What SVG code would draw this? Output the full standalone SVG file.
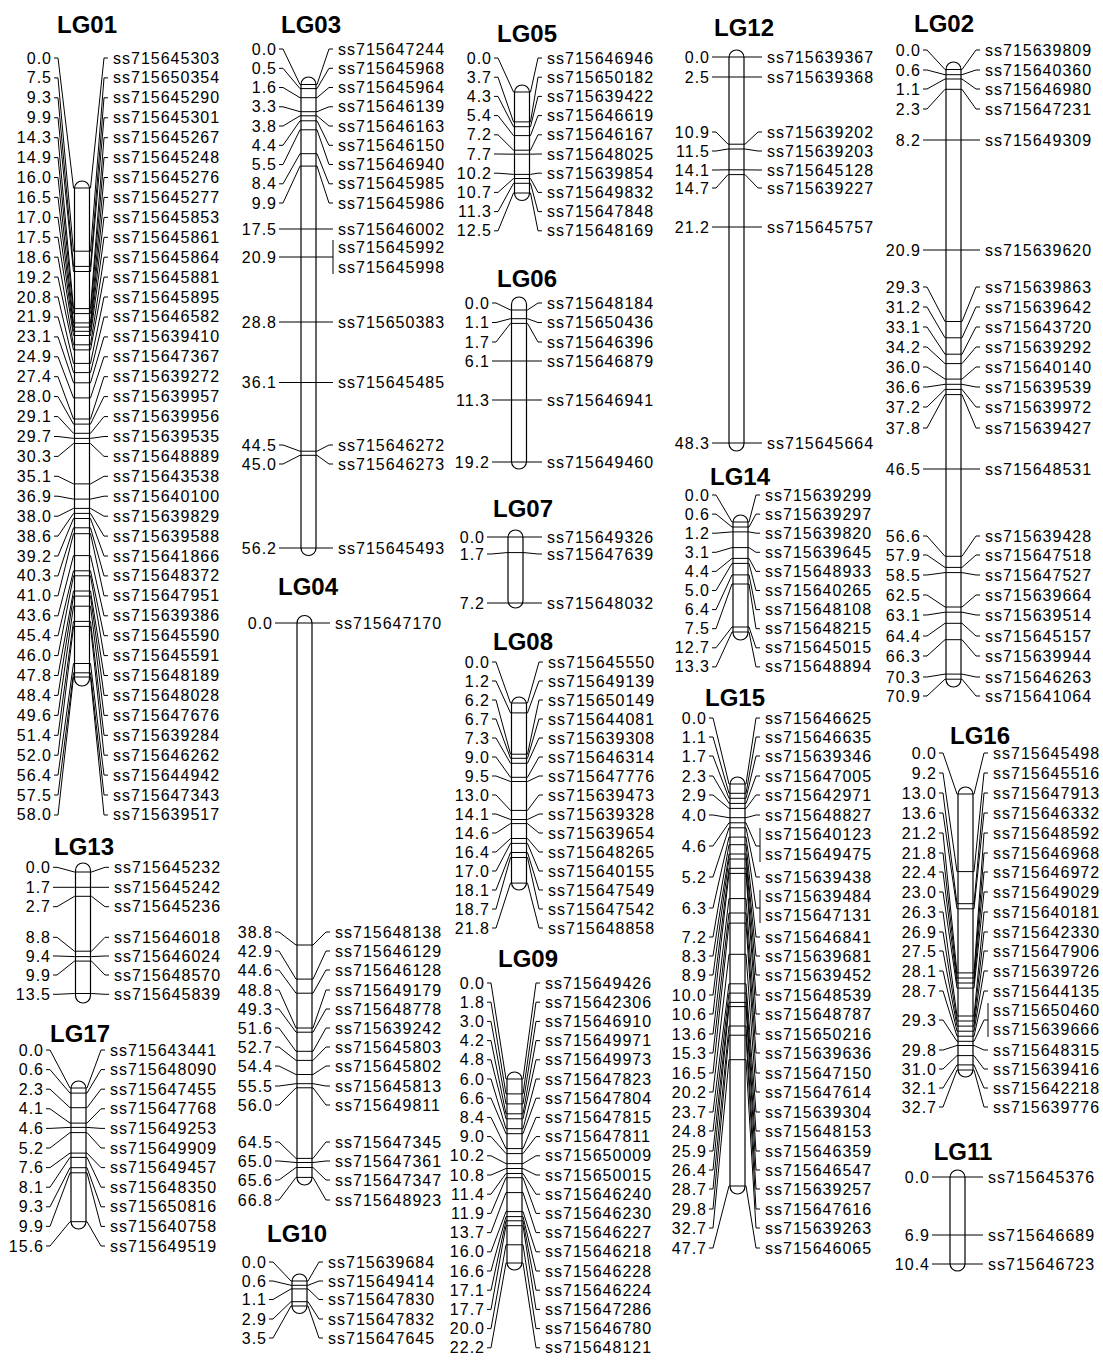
<svg xmlns="http://www.w3.org/2000/svg" width="1103" height="1365" viewBox="0 0 1103 1365">
<style>
text{font-family:"Liberation Sans",Arial,sans-serif;fill:#000}
.t{font-size:16px;letter-spacing:1px}
.l{text-anchor:end}
.h{font-size:24px;font-weight:bold;text-anchor:middle}
.c{fill:#fff;stroke:#000;stroke-width:1.2}
#connectors polyline,#connectors line{fill:none;stroke:#000;stroke-width:1}
</style>
<rect width="1103" height="1365" fill="#fff"/>
<g id="LG01">
<text class="h" x="87" y="33">LG01</text>
<rect class="c" x="74.5" y="181" width="15" height="505" rx="7.5"/>
<text class="t l" x="52" y="63.5"><tspan x="52">0.0</tspan><tspan x="52" dy="19.92">7.5</tspan><tspan x="52" dy="19.92">9.3</tspan><tspan x="52" dy="19.92">9.9</tspan><tspan x="52" dy="19.92">14.3</tspan><tspan x="52" dy="19.92">14.9</tspan><tspan x="52" dy="19.92">16.0</tspan><tspan x="52" dy="19.92">16.5</tspan><tspan x="52" dy="19.92">17.0</tspan><tspan x="52" dy="19.92">17.5</tspan><tspan x="52" dy="19.92">18.6</tspan><tspan x="52" dy="19.92">19.2</tspan><tspan x="52" dy="19.92">20.8</tspan><tspan x="52" dy="19.92">21.9</tspan><tspan x="52" dy="19.92">23.1</tspan><tspan x="52" dy="19.92">24.9</tspan><tspan x="52" dy="19.92">27.4</tspan><tspan x="52" dy="19.92">28.0</tspan><tspan x="52" dy="19.92">29.1</tspan><tspan x="52" dy="19.92">29.7</tspan><tspan x="52" dy="19.92">30.3</tspan><tspan x="52" dy="19.92">35.1</tspan><tspan x="52" dy="19.92">36.9</tspan><tspan x="52" dy="19.92">38.0</tspan><tspan x="52" dy="19.92">38.6</tspan><tspan x="52" dy="19.92">39.2</tspan><tspan x="52" dy="19.92">40.3</tspan><tspan x="52" dy="19.92">41.0</tspan><tspan x="52" dy="19.92">43.6</tspan><tspan x="52" dy="19.92">45.4</tspan><tspan x="52" dy="19.92">46.0</tspan><tspan x="52" dy="19.92">47.8</tspan><tspan x="52" dy="19.92">48.4</tspan><tspan x="52" dy="19.92">49.6</tspan><tspan x="52" dy="19.92">51.4</tspan><tspan x="52" dy="19.92">52.0</tspan><tspan x="52" dy="19.92">56.4</tspan><tspan x="52" dy="19.92">57.5</tspan><tspan x="52" dy="19.92">58.0</tspan></text>
<text class="t" x="113" y="63.5"><tspan x="113">ss715645303</tspan><tspan x="113" dy="19.92">ss715650354</tspan><tspan x="113" dy="19.92">ss715645290</tspan><tspan x="113" dy="19.92">ss715645301</tspan><tspan x="113" dy="19.92">ss715645267</tspan><tspan x="113" dy="19.92">ss715645248</tspan><tspan x="113" dy="19.92">ss715645276</tspan><tspan x="113" dy="19.92">ss715645277</tspan><tspan x="113" dy="19.92">ss715645853</tspan><tspan x="113" dy="19.92">ss715645861</tspan><tspan x="113" dy="19.92">ss715645864</tspan><tspan x="113" dy="19.92">ss715645881</tspan><tspan x="113" dy="19.92">ss715645895</tspan><tspan x="113" dy="19.92">ss715646582</tspan><tspan x="113" dy="19.92">ss715639410</tspan><tspan x="113" dy="19.92">ss715647367</tspan><tspan x="113" dy="19.92">ss715639272</tspan><tspan x="113" dy="19.92">ss715639957</tspan><tspan x="113" dy="19.92">ss715639956</tspan><tspan x="113" dy="19.92">ss715639535</tspan><tspan x="113" dy="19.92">ss715648889</tspan><tspan x="113" dy="19.92">ss715643538</tspan><tspan x="113" dy="19.92">ss715640100</tspan><tspan x="113" dy="19.92">ss715639829</tspan><tspan x="113" dy="19.92">ss715639588</tspan><tspan x="113" dy="19.92">ss715641866</tspan><tspan x="113" dy="19.92">ss715648372</tspan><tspan x="113" dy="19.92">ss715647951</tspan><tspan x="113" dy="19.92">ss715639386</tspan><tspan x="113" dy="19.92">ss715645590</tspan><tspan x="113" dy="19.92">ss715645591</tspan><tspan x="113" dy="19.92">ss715648189</tspan><tspan x="113" dy="19.92">ss715648028</tspan><tspan x="113" dy="19.92">ss715647676</tspan><tspan x="113" dy="19.92">ss715639284</tspan><tspan x="113" dy="19.92">ss715646262</tspan><tspan x="113" dy="19.92">ss715644942</tspan><tspan x="113" dy="19.92">ss715647343</tspan><tspan x="113" dy="19.92">ss715639517</tspan></text>
</g>
<g id="LG13">
<text class="h" x="84" y="855">LG13</text>
<rect class="c" x="75.5" y="863" width="15" height="140" rx="7.5"/>
<text class="t l"><tspan x="51" y="872.8">0.0</tspan><tspan x="51" y="892.8">1.7</tspan><tspan x="51" y="912.2">2.7</tspan><tspan x="51" y="942.8">8.8</tspan><tspan x="51" y="961.5">9.4</tspan><tspan x="51" y="980.5">9.9</tspan><tspan x="51" y="999.8">13.5</tspan></text>
<text class="t"><tspan x="114" y="872.8">ss715645232</tspan><tspan x="114" y="892.8">ss715645242</tspan><tspan x="114" y="912.2">ss715645236</tspan><tspan x="114" y="942.8">ss715646018</tspan><tspan x="114" y="961.5">ss715646024</tspan><tspan x="114" y="980.5">ss715648570</tspan><tspan x="114" y="999.8">ss715645839</tspan></text>
</g>
<g id="LG17">
<text class="h" x="80" y="1042">LG17</text>
<rect class="c" x="71" y="1081" width="15" height="148" rx="7.5"/>
<text class="t l" x="44" y="1055.5"><tspan x="44">0.0</tspan><tspan x="44" dy="19.6">0.6</tspan><tspan x="44" dy="19.6">2.3</tspan><tspan x="44" dy="19.6">4.1</tspan><tspan x="44" dy="19.6">4.6</tspan><tspan x="44" dy="19.6">5.2</tspan><tspan x="44" dy="19.6">7.6</tspan><tspan x="44" dy="19.6">8.1</tspan><tspan x="44" dy="19.6">9.3</tspan><tspan x="44" dy="19.6">9.9</tspan><tspan x="44" dy="19.6">15.6</tspan></text>
<text class="t" x="110" y="1055.5"><tspan x="110">ss715643441</tspan><tspan x="110" dy="19.6">ss715648090</tspan><tspan x="110" dy="19.6">ss715647455</tspan><tspan x="110" dy="19.6">ss715647768</tspan><tspan x="110" dy="19.6">ss715649253</tspan><tspan x="110" dy="19.6">ss715649909</tspan><tspan x="110" dy="19.6">ss715649457</tspan><tspan x="110" dy="19.6">ss715648350</tspan><tspan x="110" dy="19.6">ss715650816</tspan><tspan x="110" dy="19.6">ss715640758</tspan><tspan x="110" dy="19.6">ss715649519</tspan></text>
</g>
<g id="LG03">
<text class="h" x="311" y="33">LG03</text>
<rect class="c" x="301" y="77" width="15" height="478.5" rx="7.5"/>
<text class="t l"><tspan x="277" y="54.5">0.0</tspan><tspan x="277" y="73.8">0.5</tspan><tspan x="277" y="93">1.6</tspan><tspan x="277" y="112.3">3.3</tspan><tspan x="277" y="131.5">3.8</tspan><tspan x="277" y="150.8">4.4</tspan><tspan x="277" y="170">5.5</tspan><tspan x="277" y="189.3">8.4</tspan><tspan x="277" y="208.5">9.9</tspan><tspan x="277" y="234.5">17.5</tspan><tspan x="277" y="262.5">20.9</tspan><tspan x="277" y="327.5">28.8</tspan><tspan x="277" y="388">36.1</tspan><tspan x="277" y="450.5">44.5</tspan><tspan x="277" y="469.5">45.0</tspan><tspan x="277" y="553.5">56.2</tspan></text>
<text class="t"><tspan x="338" y="54.5">ss715647244</tspan><tspan x="338" y="73.8">ss715645968</tspan><tspan x="338" y="93">ss715645964</tspan><tspan x="338" y="112.3">ss715646139</tspan><tspan x="338" y="131.5">ss715646163</tspan><tspan x="338" y="150.8">ss715646150</tspan><tspan x="338" y="170">ss715646940</tspan><tspan x="338" y="189.3">ss715645985</tspan><tspan x="338" y="208.5">ss715645986</tspan><tspan x="338" y="234.5">ss715646002</tspan><tspan x="338" y="252.5">ss715645992</tspan><tspan x="338" y="272.5">ss715645998</tspan><tspan x="338" y="327.5">ss715650383</tspan><tspan x="338" y="388">ss715645485</tspan><tspan x="338" y="450.5">ss715646272</tspan><tspan x="338" y="469.5">ss715646273</tspan><tspan x="338" y="553.5">ss715645493</tspan></text>
</g>
<g id="LG04">
<text class="h" x="308" y="595">LG04</text>
<rect class="c" x="297" y="615.5" width="15" height="569.5" rx="7.5"/>
<text class="t l"><tspan x="273" y="628.5">0.0</tspan><tspan x="273" y="937.5">38.8</tspan><tspan x="273" y="956.5">42.9</tspan><tspan x="273" y="975.5">44.6</tspan><tspan x="273" y="995.5">48.8</tspan><tspan x="273" y="1014.5">49.3</tspan><tspan x="273" y="1033.5">51.6</tspan><tspan x="273" y="1052.5">52.7</tspan><tspan x="273" y="1071.5">54.4</tspan><tspan x="273" y="1091.5">55.5</tspan><tspan x="273" y="1110.5">56.0</tspan><tspan x="273" y="1147.5">64.5</tspan><tspan x="273" y="1166.5">65.0</tspan><tspan x="273" y="1185.5">65.6</tspan><tspan x="273" y="1205.5">66.8</tspan></text>
<text class="t"><tspan x="335" y="628.5">ss715647170</tspan><tspan x="335" y="937.5">ss715648138</tspan><tspan x="335" y="956.5">ss715646129</tspan><tspan x="335" y="975.5">ss715646128</tspan><tspan x="335" y="995.5">ss715649179</tspan><tspan x="335" y="1014.5">ss715648778</tspan><tspan x="335" y="1033.5">ss715639242</tspan><tspan x="335" y="1052.5">ss715645803</tspan><tspan x="335" y="1071.5">ss715645802</tspan><tspan x="335" y="1091.5">ss715645813</tspan><tspan x="335" y="1110.5">ss715649811</tspan><tspan x="335" y="1147.5">ss715647345</tspan><tspan x="335" y="1166.5">ss715647361</tspan><tspan x="335" y="1185.5">ss715647347</tspan><tspan x="335" y="1205.5">ss715648923</tspan></text>
</g>
<g id="LG10">
<text class="h" x="297" y="1242">LG10</text>
<rect class="c" x="292" y="1274" width="15" height="39.5" rx="7.5"/>
<text class="t l"><tspan x="267" y="1267.5">0.0</tspan><tspan x="267" y="1286.5">0.6</tspan><tspan x="267" y="1305">1.1</tspan><tspan x="267" y="1324.5">2.9</tspan><tspan x="267" y="1343.5">3.5</tspan></text>
<text class="t"><tspan x="328" y="1267.5">ss715639684</tspan><tspan x="328" y="1286.5">ss715649414</tspan><tspan x="328" y="1305">ss715647830</tspan><tspan x="328" y="1324.5">ss715647832</tspan><tspan x="328" y="1343.5">ss715647645</tspan></text>
</g>
<g id="LG05">
<text class="h" x="527" y="42">LG05</text>
<rect class="c" x="514.5" y="85" width="15" height="115.5" rx="7.5"/>
<text class="t l" x="492" y="63.5"><tspan x="492">0.0</tspan><tspan x="492" dy="19.2">3.7</tspan><tspan x="492" dy="19.2">4.3</tspan><tspan x="492" dy="19.2">5.4</tspan><tspan x="492" dy="19.2">7.2</tspan><tspan x="492" dy="19.2">7.7</tspan><tspan x="492" dy="19.2">10.2</tspan><tspan x="492" dy="19.2">10.7</tspan><tspan x="492" dy="19.2">11.3</tspan><tspan x="492" dy="19.2">12.5</tspan></text>
<text class="t" x="547" y="63.5"><tspan x="547">ss715646946</tspan><tspan x="547" dy="19.2">ss715650182</tspan><tspan x="547" dy="19.2">ss715639422</tspan><tspan x="547" dy="19.2">ss715646619</tspan><tspan x="547" dy="19.2">ss715646167</tspan><tspan x="547" dy="19.2">ss715648025</tspan><tspan x="547" dy="19.2">ss715639854</tspan><tspan x="547" dy="19.2">ss715649832</tspan><tspan x="547" dy="19.2">ss715647848</tspan><tspan x="547" dy="19.2">ss715648169</tspan></text>
</g>
<g id="LG06">
<text class="h" x="527" y="287">LG06</text>
<rect class="c" x="511.5" y="297" width="15" height="172" rx="7.5"/>
<text class="t l"><tspan x="490" y="308.5">0.0</tspan><tspan x="490" y="328">1.1</tspan><tspan x="490" y="347.5">1.7</tspan><tspan x="490" y="366.5">6.1</tspan><tspan x="490" y="405.5">11.3</tspan><tspan x="490" y="467.5">19.2</tspan></text>
<text class="t"><tspan x="547" y="308.5">ss715648184</tspan><tspan x="547" y="328">ss715650436</tspan><tspan x="547" y="347.5">ss715646396</tspan><tspan x="547" y="366.5">ss715646879</tspan><tspan x="547" y="405.5">ss715646941</tspan><tspan x="547" y="467.5">ss715649460</tspan></text>
</g>
<g id="LG07">
<text class="h" x="523" y="517">LG07</text>
<rect class="c" x="508" y="530" width="15" height="78" rx="7.5"/>
<text class="t l"><tspan x="485" y="542.5">0.0</tspan><tspan x="485" y="559.5">1.7</tspan><tspan x="485" y="608.5">7.2</tspan></text>
<text class="t"><tspan x="547" y="542.5">ss715649326</tspan><tspan x="547" y="559.5">ss715647639</tspan><tspan x="547" y="608.5">ss715648032</tspan></text>
</g>
<g id="LG08">
<text class="h" x="523" y="650">LG08</text>
<rect class="c" x="511.5" y="697" width="15" height="193" rx="7.5"/>
<text class="t l" x="490" y="667.5"><tspan x="490">0.0</tspan><tspan x="490" dy="19">1.2</tspan><tspan x="490" dy="19">6.2</tspan><tspan x="490" dy="19">6.7</tspan><tspan x="490" dy="19">7.3</tspan><tspan x="490" dy="19">9.0</tspan><tspan x="490" dy="19">9.5</tspan><tspan x="490" dy="19">13.0</tspan><tspan x="490" dy="19">14.1</tspan><tspan x="490" dy="19">14.6</tspan><tspan x="490" dy="19">16.4</tspan><tspan x="490" dy="19">17.0</tspan><tspan x="490" dy="19">18.1</tspan><tspan x="490" dy="19">18.7</tspan><tspan x="490" dy="19">21.8</tspan></text>
<text class="t" x="548" y="667.5"><tspan x="548">ss715645550</tspan><tspan x="548" dy="19">ss715649139</tspan><tspan x="548" dy="19">ss715650149</tspan><tspan x="548" dy="19">ss715644081</tspan><tspan x="548" dy="19">ss715639308</tspan><tspan x="548" dy="19">ss715646314</tspan><tspan x="548" dy="19">ss715647776</tspan><tspan x="548" dy="19">ss715639473</tspan><tspan x="548" dy="19">ss715639328</tspan><tspan x="548" dy="19">ss715639654</tspan><tspan x="548" dy="19">ss715648265</tspan><tspan x="548" dy="19">ss715640155</tspan><tspan x="548" dy="19">ss715647549</tspan><tspan x="548" dy="19">ss715647542</tspan><tspan x="548" dy="19">ss715648858</tspan></text>
</g>
<g id="LG09">
<text class="h" x="528" y="967">LG09</text>
<rect class="c" x="507" y="1072" width="15" height="198" rx="7.5"/>
<text class="t l" x="485" y="988.5"><tspan x="485">0.0</tspan><tspan x="485" dy="19.2">1.8</tspan><tspan x="485" dy="19.2">3.0</tspan><tspan x="485" dy="19.2">4.2</tspan><tspan x="485" dy="19.2">4.8</tspan><tspan x="485" dy="19.2">6.0</tspan><tspan x="485" dy="19.2">6.6</tspan><tspan x="485" dy="19.2">8.4</tspan><tspan x="485" dy="19.2">9.0</tspan><tspan x="485" dy="19.2">10.2</tspan><tspan x="485" dy="19.2">10.8</tspan><tspan x="485" dy="19.2">11.4</tspan><tspan x="485" dy="19.2">11.9</tspan><tspan x="485" dy="19.2">13.7</tspan><tspan x="485" dy="19.2">16.0</tspan><tspan x="485" dy="19.2">16.6</tspan><tspan x="485" dy="19.2">17.1</tspan><tspan x="485" dy="19.2">17.7</tspan><tspan x="485" dy="19.2">20.0</tspan><tspan x="485" dy="19.2">22.2</tspan></text>
<text class="t" x="545" y="988.5"><tspan x="545">ss715649426</tspan><tspan x="545" dy="19.2">ss715642306</tspan><tspan x="545" dy="19.2">ss715646910</tspan><tspan x="545" dy="19.2">ss715649971</tspan><tspan x="545" dy="19.2">ss715649973</tspan><tspan x="545" dy="19.2">ss715647823</tspan><tspan x="545" dy="19.2">ss715647804</tspan><tspan x="545" dy="19.2">ss715647815</tspan><tspan x="545" dy="19.2">ss715647811</tspan><tspan x="545" dy="19.2">ss715650009</tspan><tspan x="545" dy="19.2">ss715650015</tspan><tspan x="545" dy="19.2">ss715646240</tspan><tspan x="545" dy="19.2">ss715646230</tspan><tspan x="545" dy="19.2">ss715646227</tspan><tspan x="545" dy="19.2">ss715646218</tspan><tspan x="545" dy="19.2">ss715646228</tspan><tspan x="545" dy="19.2">ss715646224</tspan><tspan x="545" dy="19.2">ss715647286</tspan><tspan x="545" dy="19.2">ss715646780</tspan><tspan x="545" dy="19.2">ss715648121</tspan></text>
</g>
<g id="LG12">
<text class="h" x="744" y="36">LG12</text>
<rect class="c" x="729" y="50" width="15" height="401" rx="7.5"/>
<text class="t l"><tspan x="710" y="62.5">0.0</tspan><tspan x="710" y="82.5">2.5</tspan><tspan x="710" y="137.5">10.9</tspan><tspan x="710" y="156.5">11.5</tspan><tspan x="710" y="175.5">14.1</tspan><tspan x="710" y="193.5">14.7</tspan><tspan x="710" y="232.5">21.2</tspan><tspan x="710" y="448.5">48.3</tspan></text>
<text class="t"><tspan x="767" y="62.5">ss715639367</tspan><tspan x="767" y="82.5">ss715639368</tspan><tspan x="767" y="137.5">ss715639202</tspan><tspan x="767" y="156.5">ss715639203</tspan><tspan x="767" y="175.5">ss715645128</tspan><tspan x="767" y="193.5">ss715639227</tspan><tspan x="767" y="232.5">ss715645757</tspan><tspan x="767" y="448.5">ss715645664</tspan></text>
</g>
<g id="LG14">
<text class="h" x="740" y="485">LG14</text>
<rect class="c" x="733" y="515" width="15" height="125" rx="7.5"/>
<text class="t l" x="710" y="500.5"><tspan x="710">0.0</tspan><tspan x="710" dy="19.1">0.6</tspan><tspan x="710" dy="19.1">1.2</tspan><tspan x="710" dy="19.1">3.1</tspan><tspan x="710" dy="19.1">4.4</tspan><tspan x="710" dy="19.1">5.0</tspan><tspan x="710" dy="19.1">6.4</tspan><tspan x="710" dy="19.1">7.5</tspan><tspan x="710" dy="19.1">12.7</tspan><tspan x="710" dy="19.1">13.3</tspan></text>
<text class="t" x="765" y="500.5"><tspan x="765">ss715639299</tspan><tspan x="765" dy="19.1">ss715639297</tspan><tspan x="765" dy="19.1">ss715639820</tspan><tspan x="765" dy="19.1">ss715639645</tspan><tspan x="765" dy="19.1">ss715648933</tspan><tspan x="765" dy="19.1">ss715640265</tspan><tspan x="765" dy="19.1">ss715648108</tspan><tspan x="765" dy="19.1">ss715648215</tspan><tspan x="765" dy="19.1">ss715645015</tspan><tspan x="765" dy="19.1">ss715648894</tspan></text>
</g>
<g id="LG15">
<text class="h" x="735" y="706">LG15</text>
<rect class="c" x="730" y="777" width="15" height="417" rx="7.5"/>
<text class="t l"><tspan x="707" y="723.5">0.0</tspan><tspan x="707" y="742.5">1.1</tspan><tspan x="707" y="761.5">1.7</tspan><tspan x="707" y="781.5">2.3</tspan><tspan x="707" y="800.5">2.9</tspan><tspan x="707" y="820.5">4.0</tspan><tspan x="707" y="851.5">4.6</tspan><tspan x="707" y="882.5">5.2</tspan><tspan x="707" y="913.5">6.3</tspan><tspan x="707" y="942.5">7.2</tspan><tspan x="707" y="961.5">8.3</tspan><tspan x="707" y="980.5">8.9</tspan><tspan x="707" y="1000.5">10.0</tspan><tspan x="707" y="1019.5">10.6</tspan><tspan x="707" y="1039.5">13.6</tspan><tspan x="707" y="1058.5">15.3</tspan><tspan x="707" y="1078.5">16.5</tspan><tspan x="707" y="1097.5">20.2</tspan><tspan x="707" y="1117.5">23.7</tspan><tspan x="707" y="1136.5">24.8</tspan><tspan x="707" y="1156.5">25.9</tspan><tspan x="707" y="1175.5">26.4</tspan><tspan x="707" y="1194.5">28.7</tspan><tspan x="707" y="1214.5">29.8</tspan><tspan x="707" y="1233.5">32.7</tspan><tspan x="707" y="1253.5">47.7</tspan></text>
<text class="t"><tspan x="765" y="723.5">ss715646625</tspan><tspan x="765" y="742.5">ss715646635</tspan><tspan x="765" y="761.5">ss715639346</tspan><tspan x="765" y="781.5">ss715647005</tspan><tspan x="765" y="800.5">ss715642971</tspan><tspan x="765" y="820.5">ss715648827</tspan><tspan x="765" y="839.5">ss715640123</tspan><tspan x="765" y="859.5">ss715649475</tspan><tspan x="765" y="882.5">ss715639438</tspan><tspan x="765" y="901.5">ss715639484</tspan><tspan x="765" y="920.5">ss715647131</tspan><tspan x="765" y="942.5">ss715646841</tspan><tspan x="765" y="961.5">ss715639681</tspan><tspan x="765" y="980.5">ss715639452</tspan><tspan x="765" y="1000.5">ss715648539</tspan><tspan x="765" y="1019.5">ss715648787</tspan><tspan x="765" y="1039.5">ss715650216</tspan><tspan x="765" y="1058.5">ss715639636</tspan><tspan x="765" y="1078.5">ss715647150</tspan><tspan x="765" y="1097.5">ss715647614</tspan><tspan x="765" y="1117.5">ss715639304</tspan><tspan x="765" y="1136.5">ss715648153</tspan><tspan x="765" y="1156.5">ss715646359</tspan><tspan x="765" y="1175.5">ss715646547</tspan><tspan x="765" y="1194.5">ss715639257</tspan><tspan x="765" y="1214.5">ss715647616</tspan><tspan x="765" y="1233.5">ss715639263</tspan><tspan x="765" y="1253.5">ss715646065</tspan></text>
</g>
<g id="LG02">
<text class="h" x="944" y="32">LG02</text>
<rect class="c" x="946" y="62" width="15" height="625" rx="7.5"/>
<text class="t l"><tspan x="921" y="55.5">0.0</tspan><tspan x="921" y="75.5">0.6</tspan><tspan x="921" y="94.5">1.1</tspan><tspan x="921" y="114.5">2.3</tspan><tspan x="921" y="145.5">8.2</tspan><tspan x="921" y="255.5">20.9</tspan><tspan x="921" y="292.5">29.3</tspan><tspan x="921" y="312.5">31.2</tspan><tspan x="921" y="332.5">33.1</tspan><tspan x="921" y="352.5">34.2</tspan><tspan x="921" y="372.5">36.0</tspan><tspan x="921" y="392.5">36.6</tspan><tspan x="921" y="412.5">37.2</tspan><tspan x="921" y="433.5">37.8</tspan><tspan x="921" y="474.5">46.5</tspan><tspan x="921" y="541.5">56.6</tspan><tspan x="921" y="560.5">57.9</tspan><tspan x="921" y="580.5">58.5</tspan><tspan x="921" y="600.5">62.5</tspan><tspan x="921" y="620.5">63.1</tspan><tspan x="921" y="641.5">64.4</tspan><tspan x="921" y="661.5">66.3</tspan><tspan x="921" y="682.5">70.3</tspan><tspan x="921" y="701.5">70.9</tspan></text>
<text class="t"><tspan x="985" y="55.5">ss715639809</tspan><tspan x="985" y="75.5">ss715640360</tspan><tspan x="985" y="94.5">ss715646980</tspan><tspan x="985" y="114.5">ss715647231</tspan><tspan x="985" y="145.5">ss715649309</tspan><tspan x="985" y="255.5">ss715639620</tspan><tspan x="985" y="292.5">ss715639863</tspan><tspan x="985" y="312.5">ss715639642</tspan><tspan x="985" y="332.5">ss715643720</tspan><tspan x="985" y="352.5">ss715639292</tspan><tspan x="985" y="372.5">ss715640140</tspan><tspan x="985" y="392.5">ss715639539</tspan><tspan x="985" y="412.5">ss715639972</tspan><tspan x="985" y="433.5">ss715639427</tspan><tspan x="985" y="474.5">ss715648531</tspan><tspan x="985" y="541.5">ss715639428</tspan><tspan x="985" y="560.5">ss715647518</tspan><tspan x="985" y="580.5">ss715647527</tspan><tspan x="985" y="600.5">ss715639664</tspan><tspan x="985" y="620.5">ss715639514</tspan><tspan x="985" y="641.5">ss715645157</tspan><tspan x="985" y="661.5">ss715639944</tspan><tspan x="985" y="682.5">ss715646263</tspan><tspan x="985" y="701.5">ss715641064</tspan></text>
</g>
<g id="LG16">
<text class="h" x="980" y="744">LG16</text>
<rect class="c" x="958" y="787" width="15" height="290" rx="7.5"/>
<text class="t l"><tspan x="937" y="758.5">0.0</tspan><tspan x="937" y="778.5">9.2</tspan><tspan x="937" y="798.5">13.0</tspan><tspan x="937" y="818.5">13.6</tspan><tspan x="937" y="838.5">21.2</tspan><tspan x="937" y="858.5">21.8</tspan><tspan x="937" y="877.5">22.4</tspan><tspan x="937" y="897.5">23.0</tspan><tspan x="937" y="917.5">26.3</tspan><tspan x="937" y="937.5">26.9</tspan><tspan x="937" y="956.5">27.5</tspan><tspan x="937" y="976.5">28.1</tspan><tspan x="937" y="996.5">28.7</tspan><tspan x="937" y="1025.5">29.3</tspan><tspan x="937" y="1055.5">29.8</tspan><tspan x="937" y="1074.5">31.0</tspan><tspan x="937" y="1093.5">32.1</tspan><tspan x="937" y="1112.5">32.7</tspan></text>
<text class="t"><tspan x="993" y="758.5">ss715645498</tspan><tspan x="993" y="778.5">ss715645516</tspan><tspan x="993" y="798.5">ss715647913</tspan><tspan x="993" y="818.5">ss715646332</tspan><tspan x="993" y="838.5">ss715648592</tspan><tspan x="993" y="858.5">ss715646968</tspan><tspan x="993" y="877.5">ss715646972</tspan><tspan x="993" y="897.5">ss715649029</tspan><tspan x="993" y="917.5">ss715640181</tspan><tspan x="993" y="937.5">ss715642330</tspan><tspan x="993" y="956.5">ss715647906</tspan><tspan x="993" y="976.5">ss715639726</tspan><tspan x="993" y="996.5">ss715644135</tspan><tspan x="993" y="1015.5">ss715650460</tspan><tspan x="993" y="1034.5">ss715639666</tspan><tspan x="993" y="1055.5">ss715648315</tspan><tspan x="993" y="1074.5">ss715639416</tspan><tspan x="993" y="1093.5">ss715642218</tspan><tspan x="993" y="1112.5">ss715639776</tspan></text>
</g>
<g id="LG11">
<text class="h" x="963" y="1160">LG11</text>
<rect class="c" x="950" y="1170" width="15" height="101" rx="7.5"/>
<text class="t l"><tspan x="930" y="1182.5">0.0</tspan><tspan x="930" y="1240.5">6.9</tspan><tspan x="930" y="1269.5">10.4</tspan></text>
<text class="t"><tspan x="988" y="1182.5">ss715645376</tspan><tspan x="988" y="1240.5">ss715646689</tspan><tspan x="988" y="1269.5">ss715646723</tspan></text>
</g>
<g id="connectors">
<polyline points="54,58 58,58 73.5,188 90.5,188 104,58 108,58"/>
<polyline points="54,77.9 58,77.9 73.5,251.2 90.5,251.2 104,77.9 108,77.9"/>
<polyline points="54,97.8 58,97.8 73.5,266.4 90.5,266.4 104,97.8 108,97.8"/>
<polyline points="54,117.8 58,117.8 73.5,271.5 90.5,271.5 104,117.8 108,117.8"/>
<polyline points="54,137.7 58,137.7 73.5,308.6 90.5,308.6 104,137.7 108,137.7"/>
<polyline points="54,157.6 58,157.6 73.5,313.6 90.5,313.6 104,157.6 108,157.6"/>
<polyline points="54,177.5 58,177.5 73.5,322.9 90.5,322.9 104,177.5 108,177.5"/>
<polyline points="54,197.4 58,197.4 73.5,327.1 90.5,327.1 104,197.4 108,197.4"/>
<polyline points="54,217.4 58,217.4 73.5,331.3 90.5,331.3 104,217.4 108,217.4"/>
<polyline points="54,237.3 58,237.3 73.5,335.5 90.5,335.5 104,237.3 108,237.3"/>
<polyline points="54,257.2 58,257.2 73.5,344.8 90.5,344.8 104,257.2 108,257.2"/>
<polyline points="54,277.1 58,277.1 73.5,349.9 90.5,349.9 104,277.1 108,277.1"/>
<polyline points="54,297 58,297 73.5,363.4 90.5,363.4 104,297 108,297"/>
<polyline points="54,317 58,317 73.5,372.6 90.5,372.6 104,317 108,317"/>
<polyline points="54,336.9 58,336.9 73.5,382.8 90.5,382.8 104,336.9 108,336.9"/>
<polyline points="54,356.8 58,356.8 73.5,397.9 90.5,397.9 104,356.8 108,356.8"/>
<polyline points="54,376.7 58,376.7 73.5,419 90.5,419 104,376.7 108,376.7"/>
<polyline points="54,396.6 58,396.6 73.5,424.1 90.5,424.1 104,396.6 108,396.6"/>
<polyline points="54,416.6 58,416.6 73.5,433.3 90.5,433.3 104,416.6 108,416.6"/>
<polyline points="54,436.5 58,436.5 73.5,438.4 90.5,438.4 104,436.5 108,436.5"/>
<polyline points="54,456.4 58,456.4 73.5,443.5 90.5,443.5 104,456.4 108,456.4"/>
<polyline points="54,476.3 58,476.3 73.5,483.9 90.5,483.9 104,476.3 108,476.3"/>
<polyline points="54,496.2 58,496.2 73.5,499.1 90.5,499.1 104,496.2 108,496.2"/>
<polyline points="54,516.2 58,516.2 73.5,508.4 90.5,508.4 104,516.2 108,516.2"/>
<polyline points="54,536.1 58,536.1 73.5,513.4 90.5,513.4 104,536.1 108,536.1"/>
<polyline points="54,556 58,556 73.5,518.5 90.5,518.5 104,556 108,556"/>
<polyline points="54,575.9 58,575.9 73.5,527.8 90.5,527.8 104,575.9 108,575.9"/>
<polyline points="54,595.8 58,595.8 73.5,533.7 90.5,533.7 104,595.8 108,595.8"/>
<polyline points="54,615.8 58,615.8 73.5,555.6 90.5,555.6 104,615.8 108,615.8"/>
<polyline points="54,635.7 58,635.7 73.5,570.8 90.5,570.8 104,635.7 108,635.7"/>
<polyline points="54,655.6 58,655.6 73.5,575.8 90.5,575.8 104,655.6 108,655.6"/>
<polyline points="54,675.5 58,675.5 73.5,591 90.5,591 104,675.5 108,675.5"/>
<polyline points="54,695.4 58,695.4 73.5,596.1 90.5,596.1 104,695.4 108,695.4"/>
<polyline points="54,715.4 58,715.4 73.5,606.2 90.5,606.2 104,715.4 108,715.4"/>
<polyline points="54,735.3 58,735.3 73.5,621.4 90.5,621.4 104,735.3 108,735.3"/>
<polyline points="54,755.2 58,755.2 73.5,626.4 90.5,626.4 104,755.2 108,755.2"/>
<polyline points="54,775.1 58,775.1 73.5,663.5 90.5,663.5 104,775.1 108,775.1"/>
<polyline points="54,795 58,795 73.5,672.8 90.5,672.8 104,795 108,795"/>
<polyline points="54,815 58,815 73.5,677 90.5,677 104,815 108,815"/>
<polyline points="53,867.3 57,867.3 74.5,872 91.5,872 105,867.3 109,867.3"/>
<polyline points="53,887.3 57,887.3 74.5,887.3 91.5,887.3 105,887.3 109,887.3"/>
<polyline points="53,906.7 57,906.7 74.5,896.3 91.5,896.3 105,906.7 109,906.7"/>
<polyline points="53,937.3 57,937.3 74.5,951.2 91.5,951.2 105,937.3 109,937.3"/>
<polyline points="53,956 57,956 74.5,956.6 91.5,956.6 105,956 109,956"/>
<polyline points="53,975 57,975 74.5,961.1 91.5,961.1 105,975 109,975"/>
<polyline points="53,994.3 57,994.3 74.5,993.5 91.5,993.5 105,994.3 109,994.3"/>
<polyline points="46,1050 50,1050 70,1088 87,1088 101,1050 105,1050"/>
<polyline points="46,1069.6 50,1069.6 70,1093.1 87,1093.1 101,1069.6 105,1069.6"/>
<polyline points="46,1089.2 50,1089.2 70,1107.7 87,1107.7 101,1089.2 105,1089.2"/>
<polyline points="46,1108.8 50,1108.8 70,1123.1 87,1123.1 101,1108.8 105,1108.8"/>
<polyline points="46,1128.4 50,1128.4 70,1127.4 87,1127.4 101,1128.4 105,1128.4"/>
<polyline points="46,1148 50,1148 70,1132.6 87,1132.6 101,1148 105,1148"/>
<polyline points="46,1167.6 50,1167.6 70,1153.1 87,1153.1 101,1167.6 105,1167.6"/>
<polyline points="46,1187.2 50,1187.2 70,1157.4 87,1157.4 101,1187.2 105,1187.2"/>
<polyline points="46,1206.8 50,1206.8 70,1167.7 87,1167.7 101,1206.8 105,1206.8"/>
<polyline points="46,1226.4 50,1226.4 70,1172.8 87,1172.8 101,1226.4 105,1226.4"/>
<polyline points="46,1246 50,1246 70,1221.7 87,1221.7 101,1246 105,1246"/>
<polyline points="279,49 283,49 300,84.5 317,84.5 329,49 333,49"/>
<polyline points="279,68.3 283,68.3 300,88.6 317,88.6 329,68.3 333,68.3"/>
<polyline points="279,87.5 283,87.5 300,97.7 317,97.7 329,87.5 333,87.5"/>
<polyline points="279,106.8 283,106.8 300,111.7 317,111.7 329,106.8 333,106.8"/>
<polyline points="279,126 283,126 300,115.8 317,115.8 329,126 333,126"/>
<polyline points="279,145.3 283,145.3 300,120.8 317,120.8 329,145.3 333,145.3"/>
<polyline points="279,164.5 283,164.5 300,129.8 317,129.8 329,164.5 333,164.5"/>
<polyline points="279,183.8 283,183.8 300,153.7 317,153.7 329,183.8 333,183.8"/>
<polyline points="279,203 283,203 300,166.1 317,166.1 329,203 333,203"/>
<polyline points="279,229 333,229"/>
<polyline points="279,257 333,257"/>
<line x1="333" y1="240" x2="333" y2="274"/>
<polyline points="279,322 333,322"/>
<polyline points="279,382.5 333,382.5"/>
<polyline points="279,445 283,445 300,451.2 317,451.2 329,445 333,445"/>
<polyline points="279,464 283,464 300,455.3 317,455.3 329,464 333,464"/>
<polyline points="279,548 333,548"/>
<polyline points="275,623 330,623"/>
<polyline points="275,932 279,932 296,945 313,945 326,932 330,932"/>
<polyline points="275,951 279,951 296,979.1 313,979.1 326,951 330,951"/>
<polyline points="275,970 279,970 296,993.2 313,993.2 326,970 330,970"/>
<polyline points="275,990 279,990 296,1028 313,1028 326,990 330,990"/>
<polyline points="275,1009 279,1009 296,1032.2 313,1032.2 326,1009 330,1009"/>
<polyline points="275,1028 279,1028 296,1051.3 313,1051.3 326,1028 330,1028"/>
<polyline points="275,1047 279,1047 296,1060.4 313,1060.4 326,1047 330,1047"/>
<polyline points="275,1066 279,1066 296,1074.5 313,1074.5 326,1066 330,1066"/>
<polyline points="275,1086 279,1086 296,1083.7 313,1083.7 326,1086 330,1086"/>
<polyline points="275,1105 279,1105 296,1087.8 313,1087.8 326,1105 330,1105"/>
<polyline points="275,1142 279,1142 296,1158.4 313,1158.4 326,1142 330,1142"/>
<polyline points="275,1161 279,1161 296,1162.5 313,1162.5 326,1161 330,1161"/>
<polyline points="275,1180 279,1180 296,1167.5 313,1167.5 326,1180 330,1180"/>
<polyline points="275,1200 279,1200 296,1177.4 313,1177.4 326,1200 330,1200"/>
<polyline points="269,1262 273,1262 291,1281 308,1281 319,1262 323,1262"/>
<polyline points="269,1281 273,1281 291,1285.3 308,1285.3 319,1281 323,1281"/>
<polyline points="269,1299.5 273,1299.5 291,1288.9 308,1288.9 319,1299.5 323,1299.5"/>
<polyline points="269,1319 273,1319 291,1301.7 308,1301.7 319,1319 323,1319"/>
<polyline points="269,1338 273,1338 291,1306 308,1306 319,1338 323,1338"/>
<polyline points="494,58 498,58 513.5,92 530.5,92 538,58 542,58"/>
<polyline points="494,77.2 498,77.2 513.5,121.9 530.5,121.9 538,77.2 542,77.2"/>
<polyline points="494,96.4 498,96.4 513.5,126.7 530.5,126.7 538,96.4 542,96.4"/>
<polyline points="494,115.6 498,115.6 513.5,135.6 530.5,135.6 538,115.6 542,115.6"/>
<polyline points="494,134.8 498,134.8 513.5,150.2 530.5,150.2 538,134.8 542,134.8"/>
<polyline points="494,154 498,154 513.5,154.2 530.5,154.2 538,154 542,154"/>
<polyline points="494,173.2 498,173.2 513.5,174.4 530.5,174.4 538,173.2 542,173.2"/>
<polyline points="494,192.4 498,192.4 513.5,178.5 530.5,178.5 538,192.4 542,192.4"/>
<polyline points="494,211.6 498,211.6 513.5,183.3 530.5,183.3 538,211.6 542,211.6"/>
<polyline points="494,230.8 498,230.8 513.5,193 530.5,193 538,230.8 542,230.8"/>
<polyline points="492,303 496,303 510.5,310 527.5,310 538,303 542,303"/>
<polyline points="492,322.5 496,322.5 510.5,318.7 527.5,318.7 538,322.5 542,322.5"/>
<polyline points="492,342 496,342 510.5,323.4 527.5,323.4 538,342 542,342"/>
<polyline points="492,361 542,361"/>
<polyline points="492,400 542,400"/>
<polyline points="492,462 542,462"/>
<polyline points="487,537 542,537"/>
<polyline points="487,554 491,554 507,552.6 524,552.6 538,554 542,554"/>
<polyline points="487,603 542,603"/>
<polyline points="492,662 496,662 510.5,703 527.5,703 539,662 543,662"/>
<polyline points="492,681 496,681 510.5,712.9 527.5,712.9 539,681 543,681"/>
<polyline points="492,700 496,700 510.5,754.2 527.5,754.2 539,700 543,700"/>
<polyline points="492,719 496,719 510.5,758.3 527.5,758.3 539,719 543,719"/>
<polyline points="492,738 496,738 510.5,763.3 527.5,763.3 539,738 543,738"/>
<polyline points="492,757 496,757 510.5,777.3 527.5,777.3 539,757 543,757"/>
<polyline points="492,776 496,776 510.5,781.5 527.5,781.5 539,776 543,776"/>
<polyline points="492,795 496,795 510.5,810.4 527.5,810.4 539,795 543,795"/>
<polyline points="492,814 496,814 510.5,819.5 527.5,819.5 539,814 543,814"/>
<polyline points="492,833 496,833 510.5,823.6 527.5,823.6 539,833 543,833"/>
<polyline points="492,852 496,852 510.5,838.5 527.5,838.5 539,852 543,852"/>
<polyline points="492,871 496,871 510.5,843.4 527.5,843.4 539,871 543,871"/>
<polyline points="492,890 496,890 510.5,852.5 527.5,852.5 539,890 543,890"/>
<polyline points="492,909 496,909 510.5,857.5 527.5,857.5 539,909 543,909"/>
<polyline points="492,928 496,928 510.5,883.1 527.5,883.1 539,928 543,928"/>
<polyline points="487,983 491,983 506,1079 523,1079 536,983 540,983"/>
<polyline points="487,1002.2 491,1002.2 506,1093.9 523,1093.9 536,1002.2 540,1002.2"/>
<polyline points="487,1021.4 491,1021.4 506,1103.9 523,1103.9 536,1021.4 540,1021.4"/>
<polyline points="487,1040.6 491,1040.6 506,1113.8 523,1113.8 536,1040.6 540,1040.6"/>
<polyline points="487,1059.8 491,1059.8 506,1118.8 523,1118.8 536,1059.8 540,1059.8"/>
<polyline points="487,1079 491,1079 506,1128.7 523,1128.7 536,1079 540,1079"/>
<polyline points="487,1098.2 491,1098.2 506,1133.7 523,1133.7 536,1098.2 540,1098.2"/>
<polyline points="487,1117.4 491,1117.4 506,1148.6 523,1148.6 536,1117.4 540,1117.4"/>
<polyline points="487,1136.6 491,1136.6 506,1153.6 523,1153.6 536,1136.6 540,1136.6"/>
<polyline points="487,1155.8 491,1155.8 506,1163.6 523,1163.6 536,1155.8 540,1155.8"/>
<polyline points="487,1175 491,1175 506,1168.5 523,1168.5 536,1175 540,1175"/>
<polyline points="487,1194.2 491,1194.2 506,1173.5 523,1173.5 536,1194.2 540,1194.2"/>
<polyline points="487,1213.4 491,1213.4 506,1177.7 523,1177.7 536,1213.4 540,1213.4"/>
<polyline points="487,1232.6 491,1232.6 506,1192.6 523,1192.6 536,1232.6 540,1232.6"/>
<polyline points="487,1251.8 491,1251.8 506,1211.6 523,1211.6 536,1251.8 540,1251.8"/>
<polyline points="487,1271 491,1271 506,1216.6 523,1216.6 536,1271 540,1271"/>
<polyline points="487,1290.2 491,1290.2 506,1220.8 523,1220.8 536,1290.2 540,1290.2"/>
<polyline points="487,1309.4 491,1309.4 506,1225.7 523,1225.7 536,1309.4 540,1309.4"/>
<polyline points="487,1328.6 491,1328.6 506,1244.8 523,1244.8 536,1328.6 540,1328.6"/>
<polyline points="487,1347.8 491,1347.8 506,1263 523,1263 536,1347.8 540,1347.8"/>
<polyline points="712,57 762,57"/>
<polyline points="712,77 762,77"/>
<polyline points="712,132 716,132 728,144.2 745,144.2 758,132 762,132"/>
<polyline points="712,151 716,151 728,149 745,149 758,151 762,151"/>
<polyline points="712,170 716,170 728,169.8 745,169.8 758,170 762,170"/>
<polyline points="712,188 716,188 728,174.6 745,174.6 758,188 762,188"/>
<polyline points="712,227 762,227"/>
<polyline points="712,443 762,443"/>
<polyline points="712,495 716,495 732,522 749,522 756,495 760,495"/>
<polyline points="712,514.1 716,514.1 732,527 749,527 756,514.1 760,514.1"/>
<polyline points="712,533.2 716,533.2 732,531.9 749,531.9 756,533.2 760,533.2"/>
<polyline points="712,552.3 716,552.3 732,547.6 749,547.6 756,552.3 760,552.3"/>
<polyline points="712,571.4 716,571.4 732,558.4 749,558.4 756,571.4 760,571.4"/>
<polyline points="712,590.5 716,590.5 732,563.4 749,563.4 756,590.5 760,590.5"/>
<polyline points="712,609.6 716,609.6 732,574.9 749,574.9 756,609.6 760,609.6"/>
<polyline points="712,628.7 716,628.7 732,584 749,584 756,628.7 760,628.7"/>
<polyline points="712,647.8 716,647.8 732,627 749,627 756,647.8 760,647.8"/>
<polyline points="712,666.9 716,666.9 732,632 749,632 756,666.9 760,666.9"/>
<polyline points="709,718 713,718 729,784 746,784 756,718 760,718"/>
<polyline points="709,737 713,737 729,793.3 746,793.3 756,737 760,737"/>
<polyline points="709,756 713,756 729,798.3 746,798.3 756,756 760,756"/>
<polyline points="709,776 713,776 729,803.4 746,803.4 756,776 760,776"/>
<polyline points="709,795 713,795 729,808.4 746,808.4 756,795 760,795"/>
<polyline points="709,815 713,815 729,817.7 746,817.7 756,815 760,815"/>
<polyline points="709,846 713,846 729,822.8 746,822.8 756,846 760,846"/>
<line x1="760" y1="828" x2="760" y2="862"/>
<polyline points="709,877 713,877 729,827.8 746,827.8 756,877 760,877"/>
<polyline points="709,908 713,908 729,837.1 746,837.1 756,908 760,908"/>
<line x1="760" y1="890" x2="760" y2="923"/>
<polyline points="709,937 713,937 729,844.7 746,844.7 756,937 760,937"/>
<polyline points="709,956 713,956 729,854 746,854 756,956 760,956"/>
<polyline points="709,975 713,975 729,859 746,859 756,975 760,975"/>
<polyline points="709,995 713,995 729,868.3 746,868.3 756,995 760,995"/>
<polyline points="709,1014 713,1014 729,873.4 746,873.4 756,1014 760,1014"/>
<polyline points="709,1034 713,1034 729,898.6 746,898.6 756,1034 760,1034"/>
<polyline points="709,1053 713,1053 729,913 746,913 756,1053 760,1053"/>
<polyline points="709,1073 713,1073 729,923.1 746,923.1 756,1073 760,1073"/>
<polyline points="709,1092 713,1092 729,954.3 746,954.3 756,1092 760,1092"/>
<polyline points="709,1112 713,1112 729,983.8 746,983.8 756,1112 760,1112"/>
<polyline points="709,1131 713,1131 729,993.1 746,993.1 756,1131 760,1131"/>
<polyline points="709,1151 713,1151 729,1002.4 746,1002.4 756,1151 760,1151"/>
<polyline points="709,1170 713,1170 729,1006.6 746,1006.6 756,1170 760,1170"/>
<polyline points="709,1189 713,1189 729,1026 746,1026 756,1189 760,1189"/>
<polyline points="709,1209 713,1209 729,1035.2 746,1035.2 756,1209 760,1209"/>
<polyline points="709,1228 713,1228 729,1059.7 746,1059.7 756,1228 760,1228"/>
<polyline points="709,1248 713,1248 729,1186 746,1186 756,1248 760,1248"/>
<polyline points="923,50 927,50 945,69.5 962,69.5 976,50 980,50"/>
<polyline points="923,70 927,70 945,74.7 962,74.7 976,70 980,70"/>
<polyline points="923,89 927,89 945,79 962,79 976,89 980,89"/>
<polyline points="923,109 927,109 945,89.3 962,89.3 976,109 980,109"/>
<polyline points="923,140 980,140"/>
<polyline points="923,250 980,250"/>
<polyline points="923,287 927,287 945,321.5 962,321.5 976,287 980,287"/>
<polyline points="923,307 927,307 945,337.8 962,337.8 976,307 980,307"/>
<polyline points="923,327 927,327 945,354.2 962,354.2 976,327 980,327"/>
<polyline points="923,347 927,347 945,363.6 962,363.6 976,347 980,347"/>
<polyline points="923,367 927,367 945,379.1 962,379.1 976,367 980,367"/>
<polyline points="923,387 927,387 945,384.3 962,384.3 976,387 980,387"/>
<polyline points="923,407 927,407 945,389.4 962,389.4 976,407 980,407"/>
<polyline points="923,428 927,428 945,394.6 962,394.6 976,428 980,428"/>
<polyline points="923,469 980,469"/>
<polyline points="923,536 927,536 945,556.3 962,556.3 976,536 980,536"/>
<polyline points="923,555 927,555 945,567.4 962,567.4 976,555 980,555"/>
<polyline points="923,575 927,575 945,572.6 962,572.6 976,575 980,575"/>
<polyline points="923,595 927,595 945,607 962,607 976,595 980,595"/>
<polyline points="923,615 927,615 945,612.2 962,612.2 976,615 980,615"/>
<polyline points="923,636 927,636 945,623.3 962,623.3 976,636 980,636"/>
<polyline points="923,656 927,656 945,639.7 962,639.7 976,656 980,656"/>
<polyline points="923,677 927,677 945,674.1 962,674.1 976,677 980,677"/>
<polyline points="923,696 927,696 945,679.2 962,679.2 976,696 980,696"/>
<polyline points="939,753 943,753 957,794 974,794 984,753 988,753"/>
<polyline points="939,773 943,773 957,871.6 974,871.6 984,773 988,773"/>
<polyline points="939,793 943,793 957,903.7 974,903.7 984,793 988,793"/>
<polyline points="939,813 943,813 957,908.8 974,908.8 984,813 988,813"/>
<polyline points="939,833 943,833 957,972.9 974,972.9 984,833 988,833"/>
<polyline points="939,853 943,853 957,978 974,978 984,853 988,853"/>
<polyline points="939,872 943,872 957,983 974,983 984,872 988,872"/>
<polyline points="939,892 943,892 957,988.1 974,988.1 984,892 988,892"/>
<polyline points="939,912 943,912 957,1016 974,1016 984,912 988,912"/>
<polyline points="939,932 943,932 957,1021 974,1021 984,932 988,932"/>
<polyline points="939,951 943,951 957,1026.1 974,1026.1 984,951 988,951"/>
<polyline points="939,971 943,971 957,1031.2 974,1031.2 984,971 988,971"/>
<polyline points="939,991 943,991 957,1036.2 974,1036.2 984,991 988,991"/>
<polyline points="939,1020 943,1020 957,1041.3 974,1041.3 984,1020 988,1020"/>
<line x1="988" y1="1003" x2="988" y2="1037"/>
<polyline points="939,1050 943,1050 957,1045.5 974,1045.5 984,1050 988,1050"/>
<polyline points="939,1069 943,1069 957,1055.6 974,1055.6 984,1069 988,1069"/>
<polyline points="939,1088 943,1088 957,1064.9 974,1064.9 984,1088 988,1088"/>
<polyline points="939,1107 943,1107 957,1070 974,1070 984,1107 988,1107"/>
<polyline points="932,1177 983,1177"/>
<polyline points="932,1235 983,1235"/>
<polyline points="932,1264 983,1264"/>
</g>
</svg>
